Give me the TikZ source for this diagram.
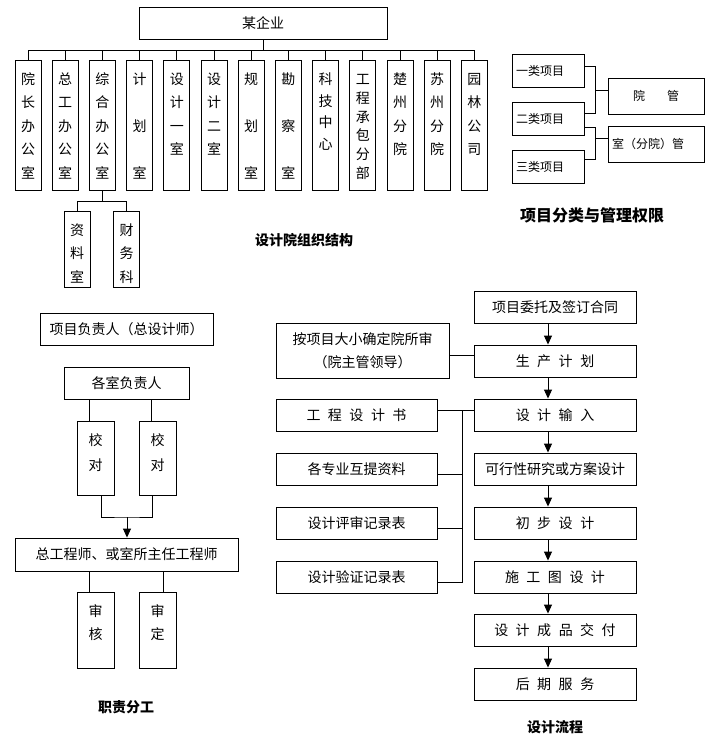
\documentclass[tikz,border=0pt]{standalone}
\usepackage{fontspec}
\setmainfont{Noto Sans CJK SC}
\usetikzlibrary{arrows.meta,calc}
\newcommand\vcol[3][126]{\parbox[c][#1pt][t]{20pt}{\centering\fontsize{14pt}{#2pt}\selectfont\rule{0pt}{22pt}#3}}
\newcommand\kk{\hspace{7.5pt}}
\tikzset{
  box/.style={draw, line width=0.9pt, inner sep=2pt, font=\fontsize{14pt}{17pt}\selectfont},
  dept/.style={box, inner sep=0pt, minimum width=26, minimum height=130, anchor=north},
  small/.style={box, font=\fontsize{12pt}{14pt}\selectfont},
  link/.style={line width=0.9pt},
  flow/.style={link, -{Triangle[width=8pt,length=9pt]}},
  caption/.style={font=\bfseries\fontsize{14pt}{17pt}\selectfont}
}
\begin{document}
\begin{tikzpicture}[x=1pt,y=-1pt]
\useasboundingbox (0,0) rectangle (720,742);
\node[box, minimum width=248, minimum height=32] (qiye) at (263,23) {某企业};
\foreach \g/\txt [count=\i from 0] in {23.5/{院\\长\\办\\公\\室}, 23.5/{总\\工\\办\\公\\室},
  23.5/{综\\合\\办\\公\\室}, 47/{计\\划\\室}, 23.5/{设\\计\\一\\室}, 23.5/{设\\计\\二\\室},
  47/{规\\划\\室}, 47/{勘\\察\\室}, 21.7/{科\\技\\中\\心}, 18.8/{工\\程\\承\\包\\分\\部},
  23.5/{楚\\州\\分\\院}, 23.5/{苏\\州\\分\\院}, 23.5/{园\\林\\公\\司}}
  \node[dept] (d\i) at ({28+37.2*\i},60) {\vcol{\g}{\txt}};
\draw[link] (qiye.south) -- ++(0,11);
\draw[link] (d0.north) -- ++(0,-10) -| (d12.north);
\foreach \i in {1,...,11} \draw[link] (d\i.north) -- ++(0,-10);
\node[dept, minimum height=76] (ziliao) at (77,211) {\vcol[72]{23.5}{资\\料\\室}};
\node[dept, minimum height=76] (caiwu) at (126.5,211) {\vcol[72]{23.5}{财\\务\\科}};
\draw[link] (d2.south) -- ++(0,11) coordinate (zh);
\draw[link] (ziliao.north) |- (zh) -| (caiwu.north);
\node[caption] (cap1) at (304,240) {设计院组织结构};

\node[small, minimum width=72, minimum height=33, text width=64, align=left] (yilei) at (548,70.5) {一类项目};
\node[small, minimum width=72, minimum height=33, text width=64, align=left] (erlei) at (548,118.5) {二类项目};
\node[small, minimum width=72, minimum height=33, text width=64, align=left] (sanlei) at (548,167) {三类项目};
\node[small, minimum width=96, minimum height=36] (yuan) at (656,96) {院\hspace{22pt}管};
\node[small, minimum width=96, minimum height=36, text width=88, align=left] (shi) at (656,144) {室（分院）管};
\draw[link] ([yshift=4.5pt]yilei.east) -- ++(11,0) |- ([yshift=5.5pt]erlei.east);
\draw[link] ([yshift=6pt]yuan.west) -- ++(-13,0);
\draw[link] ([yshift=-8.5pt]erlei.east) -- ++(11,0) |- ([yshift=8pt]sanlei.east);
\draw[link] ([yshift=6pt]shi.west) -- ++(-13,0);
\node[caption, font=\bfseries\fontsize{16pt}{19pt}\selectfont] (cap2) at (592,215) {项目分类与管理权限};

\node[box, minimum width=173, minimum height=32] (xmfz) at (126.5,329) {项目负责人（总设计师）};
\node[box, minimum width=125, minimum height=32] (gsfz) at (126.5,383) {各室负责人};
\node[box, inner sep=0pt, minimum width=37, minimum height=74] (jd1) at (95.5,458) {\vcol[70]{25}{校\\对}};
\node[box, inner sep=0pt, minimum width=37, minimum height=74] (jd2) at (157.5,458) {\vcol[70]{25}{校\\对}};
\draw[link] ([xshift=-6.5pt]jd1.north) -- ([xshift=-6.5pt]jd1.north |- gsfz.south);
\draw[link] ([xshift=-6.5pt]jd2.north) -- ([xshift=-6.5pt]jd2.north |- gsfz.south);
\node[box, minimum width=223, minimum height=33] (zgcs) at (126.5,554.5) {总工程师、或室所主任工程师};
\coordinate (hui) at (127,517);
\draw[link] ([xshift=5.5pt]jd1.south) |- (hui) -| ([xshift=-5.5pt]jd2.south);
\draw[flow] (hui) -- (hui |- zgcs.north);
\node[box, inner sep=0pt, minimum width=37, minimum height=76] (sh1) at (95.5,630) {\vcol[72]{23}{审\\核}};
\node[box, inner sep=0pt, minimum width=37, minimum height=76] (sh2) at (157.5,630) {\vcol[72]{23}{审\\定}};
\draw[link] ([xshift=-6.5pt]sh1.north) -- ([xshift=-6.5pt]sh1.north |- zgcs.south);
\draw[link] ([xshift=5.5pt]sh2.north) -- ([xshift=5.5pt]sh2.north |- zgcs.south);
\node[caption] (cap3) at (126,707) {职责分工};

\foreach \n/\txt/\yy in {ht/项目委托及签订合同/307.5, scjh/生\kk 产\kk 计\kk 划/361,
  sjsr/设\kk 计\kk 输\kk 入/415, kxx/可行性研究或方案设计/469, cbsj/初\kk 步\kk 设\kk 计/523,
  sgt/施\kk 工\kk 图\kk 设\kk 计/577, jfu/设\kk 计\kk 成\kk 品\kk 交\kk 付/630, hqfw/后\kk 期\kk 服\kk 务/684}
  \node[box, minimum width=162, minimum height=32] (\n) at (555,\yy) {\txt};
\foreach \a/\b in {ht/scjh, scjh/sjsr, sjsr/kxx, kxx/cbsj, cbsj/sgt, sgt/jfu, jfu/hqfw}
  \draw[flow] ([xshift=-7pt]\a.south) -- ([xshift=-7pt]\b.north);
\node[box, minimum width=173, minimum height=55, align=center, font=\fontsize{14pt}{23pt}\selectfont] (an) at (362.5,350.5) {按项目大小确定院所审\\（院主管领导）};
\foreach \n/\txt/\yy in {gcsjs/工\kk 程\kk 设\kk 计\kk 书/415, gzy/各专业互提资料/469,
  psjl/设计评审记录表/523, yzjl/设计验证记录表/577}
  \node[box, minimum width=161, minimum height=32] (\n) at (356.5,\yy) {\txt};
\draw[link] ([yshift=5.5pt]scjh.west) -- ([yshift=5.5pt]scjh.west -| an.east);
\draw[link] ([yshift=5pt]gcsjs.east) -- ([yshift=5pt]sjsr.west);
\coordinate (vb) at ($([yshift=5pt]gcsjs.east)+(25,0)$);
\draw[link] (vb) |- ([yshift=-5pt]yzjl.east);
\foreach \n in {gzy, psjl} \draw[link] ([yshift=-5pt]\n.east) -- ([yshift=-5pt]\n.east -| vb);
\node[caption] (cap4) at (555,727) {设计流程};
\end{tikzpicture}
\end{document}
